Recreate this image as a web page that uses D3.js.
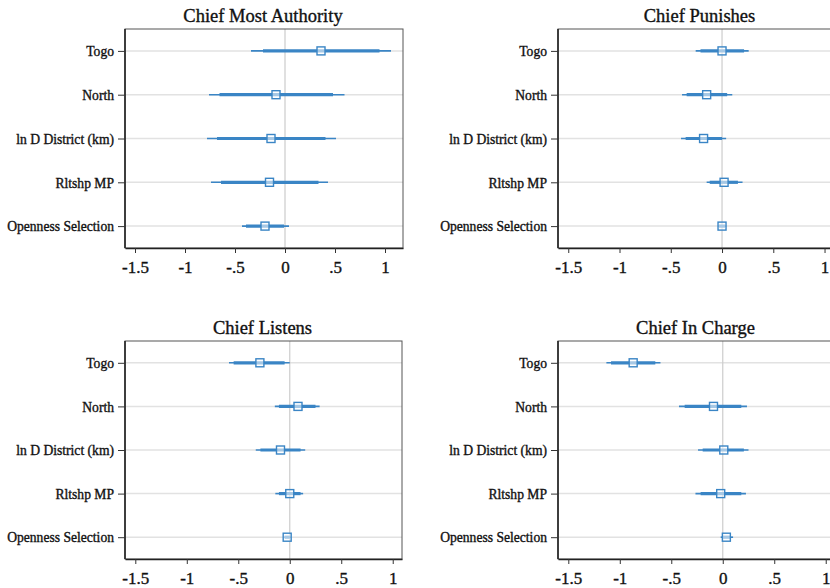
<!DOCTYPE html>
<html>
<head>
<meta charset="utf-8">
<script src="https://cdn.jsdelivr.net/npm/d3@7"></script>
<style>
  html, body { margin: 0; padding: 0; background: #fff; }
  svg { display: block; }
</style>
</head>
<body>
<svg id="chart" width="830" height="588"></svg>
<script>
// ---------- DATA ----------
const variables = ["Togo", "North", "ln D District (km)", "Rltshp MP", "Openness Selection"];
const panelTitles = ["Chief Most Authority", "Chief Punishes", "Chief Listens", "Chief In Charge"];
const xTickValues = [-1.5, -1, -0.5, 0, 0.5, 1];
const xTickLabels = ["-1.5", "-1", "-.5", "0", ".5", "1"];

// point estimates per panel (order of variables)
const estMostAuthority = [0.36, -0.09, -0.14, -0.155, -0.20];
const estPunishes      = [0.00, -0.15, -0.18, 0.02, 0.00];
const estListens       = [-0.29, 0.08, -0.09, 0.00, -0.025];
const estInCharge      = [-0.87, -0.09, 0.01, -0.02, 0.035];

// thin (95%) interval [low, high]
const ci95MostAuthority = [[-0.34, 1.06], [-0.76, 0.595], [-0.78, 0.51], [-0.74, 0.43], [-0.43, 0.04]];
const ci95Punishes      = [[-0.257, 0.26], [-0.39, 0.10], [-0.40, 0.04], [-0.15, 0.20], [-0.04, 0.04]];
const ci95Listens       = [[-0.59, 0.00], [-0.145, 0.29], [-0.33, 0.15], [-0.14, 0.13], [-0.06, 0.01]];
const ci95InCharge      = [[-1.13, -0.605], [-0.425, 0.235], [-0.24, 0.25], [-0.265, 0.225], [-0.02, 0.10]];

// thick (90%) interval [low, high]
const ci90MostAuthority = [[-0.22, 0.945], [-0.655, 0.48], [-0.68, 0.405], [-0.64, 0.335], [-0.39, -0.01]];
const ci90Punishes      = [[-0.21, 0.215], [-0.345, 0.05], [-0.355, 0.00], [-0.12, 0.155], [-0.03, 0.03]];
const ci90Listens       = [[-0.545, -0.05], [-0.105, 0.25], [-0.285, 0.105], [-0.105, 0.105], [-0.05, 0.00]];
const ci90InCharge      = [[-1.085, -0.655], [-0.37, 0.18], [-0.195, 0.205], [-0.215, 0.18], [0.00, 0.08]];

const estimates = [estMostAuthority, estPunishes, estListens, estInCharge];
const ci95 = [ci95MostAuthority, ci95Punishes, ci95Listens, ci95InCharge];
const ci90 = [ci90MostAuthority, ci90Punishes, ci90Listens, ci90InCharge];

// ---------- LAYOUT ----------
const layout = [
  { left: 125, right: 403, top: 29,  bottom: 248, dmin: -1.6, dmax: 1.18 },
  { left: 558, right: 843, top: 29,  bottom: 248, dmin: -1.6, dmax: 1.18 },
  { left: 125, right: 402, top: 341, bottom: 559, dmin: -1.6, dmax: 1.09 },
  { left: 558, right: 835, top: 341, bottom: 559, dmin: -1.6, dmax: 1.09 }
];

const blue = "#3a85c5";
const serif = "'Liberation Serif', 'Times New Roman', Times, serif";
const svg = d3.select("#chart");

function heavy(sel) {
  sel.attr("stroke", "#111").attr("stroke-width", 0.35).attr("paint-order", "stroke");
}

layout.forEach((L, i) => {
  const g = svg.append("g");
  const x = d3.scaleLinear().domain([L.dmin, L.dmax]).range([L.left, L.right]);
  const y = d3.scalePoint().domain(variables).range([L.top, L.bottom]).padding(0.5);

  // horizontal gridlines
  g.selectAll("line.hgrid").data(variables).enter().append("line")
    .attr("x1", L.left).attr("x2", L.right)
    .attr("y1", d => y(d)).attr("y2", d => y(d))
    .attr("stroke", "#e2e2e2").attr("stroke-width", 1.5);

  // zero reference line
  g.append("line")
    .attr("x1", x(0)).attr("x2", x(0))
    .attr("y1", L.top).attr("y2", L.bottom)
    .attr("stroke", "#cccccc").attr("stroke-width", 1.2);

  // frame (top/right)
  g.append("rect")
    .attr("x", L.left).attr("y", L.top)
    .attr("width", L.right - L.left).attr("height", L.bottom - L.top)
    .attr("fill", "none").attr("stroke", "#555").attr("stroke-width", 1);

  // x axis
  const xAxis = d3.axisBottom(x).tickValues(xTickValues)
    .tickFormat((d, k) => xTickLabels[k]).tickSize(5).tickSizeOuter(0);
  const gx = g.append("g").attr("transform", `translate(0,${L.bottom})`).call(xAxis);
  gx.select(".domain").attr("stroke", "#222").attr("stroke-width", 1.6);
  gx.selectAll(".tick line").attr("stroke", "#333").attr("stroke-width", 1);
  gx.selectAll(".tick text")
    .attr("font-family", serif).attr("font-size", "17px").attr("fill", "#111")
    .attr("y", 13).attr("dy", "0.71em").call(heavy);

  // y axis
  const yAxis = d3.axisLeft(y).tickSize(7).tickSizeOuter(0).tickPadding(4);
  const gy = g.append("g").attr("transform", `translate(${L.left},0)`).call(yAxis);
  gy.select(".domain").attr("stroke", "#222").attr("stroke-width", 1.6)
    .attr("d", `M0,${L.top}V${L.bottom}`);
  gy.selectAll(".tick line").attr("stroke", "#333").attr("stroke-width", 1);
  gy.selectAll(".tick text")
    .attr("font-family", serif).attr("font-size", "13.6px").attr("fill", "#111")
    .attr("dy", "0.35em").call(heavy);

  const rows = variables.map((v, k) => ({
    v, est: estimates[i][k], lo95: ci95[i][k][0], hi95: ci95[i][k][1],
    lo90: ci90[i][k][0], hi90: ci90[i][k][1]
  }));

  // thin intervals
  g.selectAll("line.ci95").data(rows).enter().append("line")
    .attr("x1", d => x(d.lo95)).attr("x2", d => x(d.hi95))
    .attr("y1", d => y(d.v)).attr("y2", d => y(d.v))
    .attr("stroke", blue).attr("stroke-width", 1.6);

  // thick intervals
  g.selectAll("line.ci90").data(rows).enter().append("line")
    .attr("x1", d => x(d.lo90)).attr("x2", d => x(d.hi90))
    .attr("y1", d => y(d.v)).attr("y2", d => y(d.v))
    .attr("stroke", blue).attr("stroke-width", 3.2);

  // markers: hollow squares
  const s = 8;
  g.selectAll("rect.pt").data(rows).enter().append("rect")
    .attr("x", d => x(d.est) - s / 2).attr("y", d => y(d.v) - s / 2)
    .attr("width", s).attr("height", s)
    .attr("fill", "#fff").attr("fill-opacity", 0.55)
    .attr("stroke", blue).attr("stroke-width", 1.4);

  // title
  g.append("text")
    .attr("x", (L.left + Math.min(L.right, 843)) / 2 - 1)
    .attr("y", L.top - 7)
    .attr("text-anchor", "middle")
    .attr("font-family", serif).attr("font-size", "18.5px").attr("fill", "#111")
    .call(heavy)
    .text(panelTitles[i]);
});
</script>
</body>
</html>
